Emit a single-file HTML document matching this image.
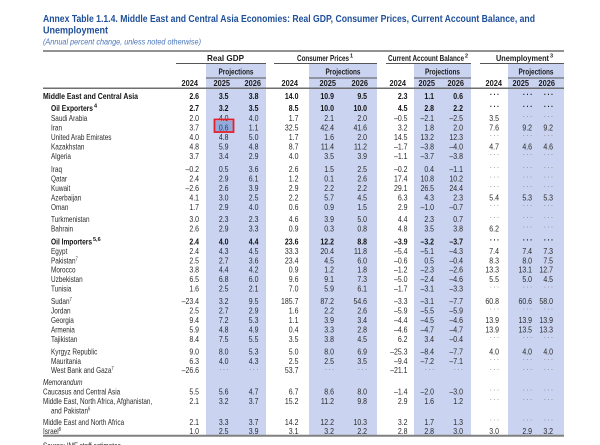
<!DOCTYPE html>
<html><head><meta charset="utf-8">
<style>
html,body{margin:0;padding:0;background:#fff;}
svg{display:block;}
text{font-family:"Liberation Sans",Arial,sans-serif;}
.t{font-size:10px;font-weight:bold;fill:#1f4f99;}
.st{font-size:8.5px;font-style:italic;fill:#4a76b8;}
.h{font-size:8.5px;font-weight:bold;fill:#1a1a1a;}
.n{font-size:8.5px;fill:#2a2a2a;}
.nb{font-size:8.5px;font-weight:bold;fill:#111;}
.d{font-size:8.5px;fill:#7a7a7a;letter-spacing:2px;}
.db{font-size:8.5px;font-weight:bold;fill:#111;letter-spacing:2px;}
.l{font-size:8.5px;fill:#2a2a2a;}
.lb{font-size:8.5px;font-weight:bold;fill:#111;}
.sup{font-size:5.5px;}
</style></head>
<body>
<svg width="600" height="445" viewBox="0 0 600 445" xmlns="http://www.w3.org/2000/svg">
<rect x="0" y="0" width="600" height="445" fill="#fff"/>

<!-- Title -->
<text class="t" x="43" y="22" textLength="492" lengthAdjust="spacingAndGlyphs">Annex Table 1.1.4. Middle East and Central Asia Economies: Real GDP, Consumer Prices, Current Account Balance, and</text>
<text class="t" x="43" y="33.5" textLength="65" lengthAdjust="spacingAndGlyphs">Unemployment</text>
<text class="st" x="43" y="44.5" textLength="158" lengthAdjust="spacingAndGlyphs">(Annual percent change, unless noted otherwise)</text>

<!-- shading -->
<g fill="#cad3ef">
<rect x="206" y="64" width="60" height="371"/>
<rect x="309" y="64" width="68" height="371"/>
<rect x="414" y="64" width="57" height="371"/>
<rect x="508" y="64" width="56" height="371"/>
</g>

<!-- rules -->
<line x1="43" y1="51" x2="564" y2="51" stroke="#6f6f6f" stroke-width="1.5"/>
<g stroke="#555" stroke-width="1">
<line x1="176" y1="63.5" x2="266" y2="63.5"/>
<line x1="274" y1="63.5" x2="377" y2="63.5"/>
<line x1="386" y1="63.5" x2="471" y2="63.5"/>
<line x1="480" y1="63.5" x2="564" y2="63.5"/>
<line x1="206" y1="78" x2="266" y2="78"/>
<line x1="309" y1="78" x2="377" y2="78"/>
<line x1="414" y1="78" x2="471" y2="78"/>
<line x1="508" y1="78" x2="564" y2="78"/>
</g>
<line x1="43" y1="88.3" x2="564" y2="88.3" stroke="#6f6f6f" stroke-width="1.5"/>
<line x1="43" y1="435.8" x2="564" y2="435.8" stroke="#808080" stroke-width="2"/>

<!-- headers -->
<text class="h" x="225.5" y="61" text-anchor="middle" textLength="37" lengthAdjust="spacingAndGlyphs">Real GDP</text>
<text class="h" x="297" y="61" textLength="52" lengthAdjust="spacingAndGlyphs">Consumer Prices</text>
<text class="h sup" x="350" y="57.5">1</text>
<text class="h" x="388" y="61" textLength="76" lengthAdjust="spacingAndGlyphs">Current Account Balance</text>
<text class="h sup" x="465" y="57.5">2</text>
<text class="h" x="496" y="61" textLength="53" lengthAdjust="spacingAndGlyphs">Unemployment</text>
<text class="h sup" x="550" y="57.5">3</text>

<text class="h" x="236" y="74.5" text-anchor="middle" textLength="35" lengthAdjust="spacingAndGlyphs">Projections</text>
<text class="h" x="343" y="74.5" text-anchor="middle" textLength="35" lengthAdjust="spacingAndGlyphs">Projections</text>
<text class="h" x="442.5" y="74.5" text-anchor="middle" textLength="35" lengthAdjust="spacingAndGlyphs">Projections</text>
<text class="h" x="536" y="74.5" text-anchor="middle" textLength="35" lengthAdjust="spacingAndGlyphs">Projections</text>

<g class="h">
<text x="181.5" y="86" textLength="16.5" lengthAdjust="spacingAndGlyphs">2024</text>
<text x="213.5" y="86" textLength="16.5" lengthAdjust="spacingAndGlyphs">2025</text>
<text x="244.5" y="86" textLength="16.5" lengthAdjust="spacingAndGlyphs">2026</text>
<text x="281.5" y="86" textLength="16.5" lengthAdjust="spacingAndGlyphs">2024</text>
<text x="319.5" y="86" textLength="16.5" lengthAdjust="spacingAndGlyphs">2025</text>
<text x="351.5" y="86" textLength="16.5" lengthAdjust="spacingAndGlyphs">2026</text>
<text x="389.5" y="86" textLength="16.5" lengthAdjust="spacingAndGlyphs">2024</text>
<text x="418.5" y="86" textLength="16.5" lengthAdjust="spacingAndGlyphs">2025</text>
<text x="447.5" y="86" textLength="16.5" lengthAdjust="spacingAndGlyphs">2026</text>
<text x="485.5" y="86" textLength="16.5" lengthAdjust="spacingAndGlyphs">2024</text>
<text x="512.5" y="86" textLength="16.5" lengthAdjust="spacingAndGlyphs">2025</text>
<text x="538.5" y="86" textLength="16.5" lengthAdjust="spacingAndGlyphs">2026</text>
</g>

<!-- highlight under Iran 2025 -->
<rect x="215.5" y="121" width="17" height="10" fill="#93abdb"/>

<!-- bold labels -->
<text class="lb" x="43" y="99" textLength="95" lengthAdjust="spacingAndGlyphs">Middle East and Central Asia</text>
<text class="lb" x="51" y="111" textLength="42" lengthAdjust="spacingAndGlyphs">Oil Exporters</text>
<text class="lb sup" x="94" y="107.5">4</text>
<text class="lb" x="51" y="244.5" textLength="41" lengthAdjust="spacingAndGlyphs">Oil Importers</text>
<text class="lb sup" x="93" y="241">5,6</text>

<!-- regular labels -->
<g transform="scale(0.755 1)" class="l">
<text x="67.55" y="121">Saudi Arabia</text>
<text x="67.55" y="130.5">Iran</text>
<text x="67.55" y="140">United Arab Emirates</text>
<text x="67.55" y="149.5">Kazakhstan</text>
<text x="67.55" y="159">Algeria</text>
<text x="67.55" y="172">Iraq</text>
<text x="67.55" y="181.5">Qatar</text>
<text x="67.55" y="191">Kuwait</text>
<text x="67.55" y="200.5">Azerbaijan</text>
<text x="67.55" y="210">Oman</text>
<text x="67.55" y="222">Turkmenistan</text>
<text x="67.55" y="231.6">Bahrain</text>
<text x="67.55" y="254">Egypt</text>
<text x="67.55" y="263.3">Pakistan<tspan class="sup" dy="-3">7</tspan></text>
<text x="67.55" y="272.7">Morocco</text>
<text x="67.55" y="282">Uzbekistan</text>
<text x="67.55" y="291.5">Tunisia</text>
<text x="67.55" y="304">Sudan<tspan class="sup" dy="-3">7</tspan></text>
<text x="67.55" y="313.5">Jordan</text>
<text x="67.55" y="323">Georgia</text>
<text x="67.55" y="332.5">Armenia</text>
<text x="67.55" y="342">Tajikistan</text>
<text x="67.55" y="354.5">Kyrgyz Republic</text>
<text x="67.55" y="364">Mauritania</text>
<text x="67.55" y="373">West Bank and Gaza<tspan class="sup" dy="-3">7</tspan></text>
<text x="56.95" y="385" font-style="italic">Memorandum</text>
<text x="56.95" y="394.5">Caucasus and Central Asia</text>
<text x="56.95" y="404">Middle East, North Africa, Afghanistan,</text>
<text x="67.55" y="413.5">and Pakistan<tspan class="sup" dy="-3">6</tspan></text>
<text x="56.95" y="425">Middle East and North Africa</text>
<text x="56.95" y="434">Israel<tspan class="sup" dy="-3">8</tspan></text>
<text x="56.95" y="448.5">Source: IMF staff estimates.</text>
</g>

<!-- numbers -->
<g transform="scale(0.82 1)" text-anchor="end">
<text class="nb" y="99"><tspan x="242.7">2.6</tspan><tspan x="278.7">3.5</tspan><tspan x="315.2">3.8</tspan><tspan x="364.0">14.0</tspan><tspan x="407.3">10.9</tspan><tspan x="447.6">9.5</tspan><tspan x="497.0">2.3</tspan><tspan x="529.3">1.1</tspan><tspan x="564.6">0.6</tspan></text>
<text class="db" y="95"><tspan x="610.5">...</tspan><tspan x="650.8">...</tspan><tspan x="676.4">...</tspan></text>
<text class="nb" y="111"><tspan x="242.7">2.7</tspan><tspan x="278.7">3.2</tspan><tspan x="315.2">3.5</tspan><tspan x="364.0">8.5</tspan><tspan x="407.3">10.0</tspan><tspan x="447.6">10.0</tspan><tspan x="497.0">4.5</tspan><tspan x="529.3">2.8</tspan><tspan x="564.6">2.2</tspan></text>
<text class="db" y="107"><tspan x="610.5">...</tspan><tspan x="650.8">...</tspan><tspan x="676.4">...</tspan></text>
<text class="n" y="121"><tspan x="242.7">2.0</tspan><tspan x="278.7">4.0</tspan><tspan x="315.2">4.0</tspan><tspan x="364.0">1.7</tspan><tspan x="407.3">2.1</tspan><tspan x="447.6">2.0</tspan><tspan x="497.0">–0.5</tspan><tspan x="529.3">–2.1</tspan><tspan x="564.6">–2.5</tspan><tspan x="608.5">3.5</tspan></text>
<text class="d" y="117"><tspan x="650.8">...</tspan><tspan x="676.4">...</tspan></text>
<text class="n" y="130.5"><tspan x="242.7">3.7</tspan><tspan x="278.7" fill="#1d3f7a">0.6</tspan><tspan x="315.2">1.1</tspan><tspan x="364.0">32.5</tspan><tspan x="407.3">42.4</tspan><tspan x="447.6">41.6</tspan><tspan x="497.0">3.2</tspan><tspan x="529.3">1.8</tspan><tspan x="564.6">2.0</tspan><tspan x="608.5">7.6</tspan><tspan x="648.8">9.2</tspan><tspan x="674.4">9.2</tspan></text>
<text class="n" y="140"><tspan x="242.7">4.0</tspan><tspan x="278.7">4.8</tspan><tspan x="315.2">5.0</tspan><tspan x="364.0">1.7</tspan><tspan x="407.3">1.6</tspan><tspan x="447.6">2.0</tspan><tspan x="497.0">14.5</tspan><tspan x="529.3">13.2</tspan><tspan x="564.6">12.3</tspan></text>
<text class="d" y="136"><tspan x="610.5">...</tspan><tspan x="650.8">...</tspan><tspan x="676.4">...</tspan></text>
<text class="n" y="149.5"><tspan x="242.7">4.8</tspan><tspan x="278.7">5.9</tspan><tspan x="315.2">4.8</tspan><tspan x="364.0">8.7</tspan><tspan x="407.3">11.4</tspan><tspan x="447.6">11.2</tspan><tspan x="497.0">–1.7</tspan><tspan x="529.3">–3.8</tspan><tspan x="564.6">–4.0</tspan><tspan x="608.5">4.7</tspan><tspan x="648.8">4.6</tspan><tspan x="674.4">4.6</tspan></text>
<text class="n" y="159"><tspan x="242.7">3.7</tspan><tspan x="278.7">3.4</tspan><tspan x="315.2">2.9</tspan><tspan x="364.0">4.0</tspan><tspan x="407.3">3.5</tspan><tspan x="447.6">3.9</tspan><tspan x="497.0">–1.1</tspan><tspan x="529.3">–3.7</tspan><tspan x="564.6">–3.8</tspan></text>
<text class="d" y="155"><tspan x="610.5">...</tspan><tspan x="650.8">...</tspan><tspan x="676.4">...</tspan></text>
<text class="n" y="172"><tspan x="242.7">–0.2</tspan><tspan x="278.7">0.5</tspan><tspan x="315.2">3.6</tspan><tspan x="364.0">2.6</tspan><tspan x="407.3">1.5</tspan><tspan x="447.6">2.5</tspan><tspan x="497.0">–0.2</tspan><tspan x="529.3">0.4</tspan><tspan x="564.6">–1.1</tspan></text>
<text class="d" y="168"><tspan x="610.5">...</tspan><tspan x="650.8">...</tspan><tspan x="676.4">...</tspan></text>
<text class="n" y="181.5"><tspan x="242.7">2.4</tspan><tspan x="278.7">2.9</tspan><tspan x="315.2">6.1</tspan><tspan x="364.0">1.2</tspan><tspan x="407.3">0.1</tspan><tspan x="447.6">2.6</tspan><tspan x="497.0">17.4</tspan><tspan x="529.3">10.8</tspan><tspan x="564.6">10.2</tspan></text>
<text class="d" y="177.5"><tspan x="610.5">...</tspan><tspan x="650.8">...</tspan><tspan x="676.4">...</tspan></text>
<text class="n" y="191"><tspan x="242.7">–2.6</tspan><tspan x="278.7">2.6</tspan><tspan x="315.2">3.9</tspan><tspan x="364.0">2.9</tspan><tspan x="407.3">2.2</tspan><tspan x="447.6">2.2</tspan><tspan x="497.0">29.1</tspan><tspan x="529.3">26.5</tspan><tspan x="564.6">24.4</tspan></text>
<text class="d" y="187"><tspan x="610.5">...</tspan><tspan x="650.8">...</tspan><tspan x="676.4">...</tspan></text>
<text class="n" y="200.5"><tspan x="242.7">4.1</tspan><tspan x="278.7">3.0</tspan><tspan x="315.2">2.5</tspan><tspan x="364.0">2.2</tspan><tspan x="407.3">5.7</tspan><tspan x="447.6">4.5</tspan><tspan x="497.0">6.3</tspan><tspan x="529.3">4.3</tspan><tspan x="564.6">2.3</tspan><tspan x="608.5">5.4</tspan><tspan x="648.8">5.3</tspan><tspan x="674.4">5.3</tspan></text>
<text class="n" y="210"><tspan x="242.7">1.7</tspan><tspan x="278.7">2.9</tspan><tspan x="315.2">4.0</tspan><tspan x="364.0">0.6</tspan><tspan x="407.3">0.9</tspan><tspan x="447.6">1.5</tspan><tspan x="497.0">2.9</tspan><tspan x="529.3">–1.0</tspan><tspan x="564.6">–0.7</tspan></text>
<text class="d" y="206"><tspan x="610.5">...</tspan><tspan x="650.8">...</tspan><tspan x="676.4">...</tspan></text>
<text class="n" y="222"><tspan x="242.7">3.0</tspan><tspan x="278.7">2.3</tspan><tspan x="315.2">2.3</tspan><tspan x="364.0">4.6</tspan><tspan x="407.3">3.9</tspan><tspan x="447.6">5.0</tspan><tspan x="497.0">4.4</tspan><tspan x="529.3">2.3</tspan><tspan x="564.6">0.7</tspan></text>
<text class="d" y="218"><tspan x="610.5">...</tspan><tspan x="650.8">...</tspan><tspan x="676.4">...</tspan></text>
<text class="n" y="231.6"><tspan x="242.7">2.6</tspan><tspan x="278.7">2.9</tspan><tspan x="315.2">3.3</tspan><tspan x="364.0">0.9</tspan><tspan x="407.3">0.3</tspan><tspan x="447.6">0.8</tspan><tspan x="497.0">4.8</tspan><tspan x="529.3">3.5</tspan><tspan x="564.6">3.8</tspan><tspan x="608.5">6.2</tspan></text>
<text class="d" y="227.6"><tspan x="650.8">...</tspan><tspan x="676.4">...</tspan></text>
<text class="nb" y="244.5"><tspan x="242.7">2.4</tspan><tspan x="278.7">4.0</tspan><tspan x="315.2">4.4</tspan><tspan x="364.0">23.6</tspan><tspan x="407.3">12.2</tspan><tspan x="447.6">8.8</tspan><tspan x="497.0">–3.9</tspan><tspan x="529.3">–3.2</tspan><tspan x="564.6">–3.7</tspan></text>
<text class="db" y="240.5"><tspan x="610.5">...</tspan><tspan x="650.8">...</tspan><tspan x="676.4">...</tspan></text>
<text class="n" y="254"><tspan x="242.7">2.4</tspan><tspan x="278.7">4.3</tspan><tspan x="315.2">4.5</tspan><tspan x="364.0">33.3</tspan><tspan x="407.3">20.4</tspan><tspan x="447.6">11.8</tspan><tspan x="497.0">–5.4</tspan><tspan x="529.3">–5.1</tspan><tspan x="564.6">–4.3</tspan><tspan x="608.5">7.4</tspan><tspan x="648.8">7.4</tspan><tspan x="674.4">7.3</tspan></text>
<text class="n" y="263.3"><tspan x="242.7">2.5</tspan><tspan x="278.7">2.7</tspan><tspan x="315.2">3.6</tspan><tspan x="364.0">23.4</tspan><tspan x="407.3">4.5</tspan><tspan x="447.6">6.0</tspan><tspan x="497.0">–0.6</tspan><tspan x="529.3">0.5</tspan><tspan x="564.6">–0.4</tspan><tspan x="608.5">8.3</tspan><tspan x="648.8">8.0</tspan><tspan x="674.4">7.5</tspan></text>
<text class="n" y="272.7"><tspan x="242.7">3.8</tspan><tspan x="278.7">4.4</tspan><tspan x="315.2">4.2</tspan><tspan x="364.0">0.9</tspan><tspan x="407.3">1.2</tspan><tspan x="447.6">1.8</tspan><tspan x="497.0">–1.2</tspan><tspan x="529.3">–2.3</tspan><tspan x="564.6">–2.6</tspan><tspan x="608.5">13.3</tspan><tspan x="648.8">13.1</tspan><tspan x="674.4">12.7</tspan></text>
<text class="n" y="282"><tspan x="242.7">6.5</tspan><tspan x="278.7">6.8</tspan><tspan x="315.2">6.0</tspan><tspan x="364.0">9.6</tspan><tspan x="407.3">9.1</tspan><tspan x="447.6">7.3</tspan><tspan x="497.0">–5.0</tspan><tspan x="529.3">–2.4</tspan><tspan x="564.6">–4.6</tspan><tspan x="608.5">5.5</tspan><tspan x="648.8">5.0</tspan><tspan x="674.4">4.5</tspan></text>
<text class="n" y="291.5"><tspan x="242.7">1.6</tspan><tspan x="278.7">2.5</tspan><tspan x="315.2">2.1</tspan><tspan x="364.0">7.0</tspan><tspan x="407.3">5.9</tspan><tspan x="447.6">6.1</tspan><tspan x="497.0">–1.7</tspan><tspan x="529.3">–3.1</tspan><tspan x="564.6">–3.3</tspan></text>
<text class="d" y="287.5"><tspan x="610.5">...</tspan><tspan x="650.8">...</tspan><tspan x="676.4">...</tspan></text>
<text class="n" y="304"><tspan x="242.7">–23.4</tspan><tspan x="278.7">3.2</tspan><tspan x="315.2">9.5</tspan><tspan x="364.0">185.7</tspan><tspan x="407.3">87.2</tspan><tspan x="447.6">54.6</tspan><tspan x="497.0">–3.3</tspan><tspan x="529.3">–3.1</tspan><tspan x="564.6">–7.7</tspan><tspan x="608.5">60.8</tspan><tspan x="648.8">60.6</tspan><tspan x="674.4">58.0</tspan></text>
<text class="n" y="313.5"><tspan x="242.7">2.5</tspan><tspan x="278.7">2.7</tspan><tspan x="315.2">2.9</tspan><tspan x="364.0">1.6</tspan><tspan x="407.3">2.2</tspan><tspan x="447.6">2.6</tspan><tspan x="497.0">–5.9</tspan><tspan x="529.3">–5.5</tspan><tspan x="564.6">–5.9</tspan></text>
<text class="d" y="309.5"><tspan x="610.5">...</tspan><tspan x="650.8">...</tspan><tspan x="676.4">...</tspan></text>
<text class="n" y="323"><tspan x="242.7">9.4</tspan><tspan x="278.7">7.2</tspan><tspan x="315.2">5.3</tspan><tspan x="364.0">1.1</tspan><tspan x="407.3">3.9</tspan><tspan x="447.6">3.4</tspan><tspan x="497.0">–4.4</tspan><tspan x="529.3">–4.5</tspan><tspan x="564.6">–4.6</tspan><tspan x="608.5">13.9</tspan><tspan x="648.8">13.9</tspan><tspan x="674.4">13.9</tspan></text>
<text class="n" y="332.5"><tspan x="242.7">5.9</tspan><tspan x="278.7">4.8</tspan><tspan x="315.2">4.9</tspan><tspan x="364.0">0.4</tspan><tspan x="407.3">3.3</tspan><tspan x="447.6">2.8</tspan><tspan x="497.0">–4.6</tspan><tspan x="529.3">–4.7</tspan><tspan x="564.6">–4.7</tspan><tspan x="608.5">13.9</tspan><tspan x="648.8">13.5</tspan><tspan x="674.4">13.3</tspan></text>
<text class="n" y="342"><tspan x="242.7">8.4</tspan><tspan x="278.7">7.5</tspan><tspan x="315.2">5.5</tspan><tspan x="364.0">3.5</tspan><tspan x="407.3">3.8</tspan><tspan x="447.6">4.5</tspan><tspan x="497.0">6.2</tspan><tspan x="529.3">3.4</tspan><tspan x="564.6">–0.4</tspan></text>
<text class="d" y="338"><tspan x="610.5">...</tspan><tspan x="650.8">...</tspan><tspan x="676.4">...</tspan></text>
<text class="n" y="354.5"><tspan x="242.7">9.0</tspan><tspan x="278.7">8.0</tspan><tspan x="315.2">5.3</tspan><tspan x="364.0">5.0</tspan><tspan x="407.3">8.0</tspan><tspan x="447.6">6.9</tspan><tspan x="497.0">–25.3</tspan><tspan x="529.3">–8.4</tspan><tspan x="564.6">–7.7</tspan><tspan x="608.5">4.0</tspan><tspan x="648.8">4.0</tspan><tspan x="674.4">4.0</tspan></text>
<text class="n" y="364"><tspan x="242.7">6.3</tspan><tspan x="278.7">4.0</tspan><tspan x="315.2">4.3</tspan><tspan x="364.0">2.5</tspan><tspan x="407.3">2.5</tspan><tspan x="447.6">3.5</tspan><tspan x="497.0">–9.4</tspan><tspan x="529.3">–7.2</tspan><tspan x="564.6">–7.1</tspan></text>
<text class="d" y="360"><tspan x="610.5">...</tspan><tspan x="650.8">...</tspan><tspan x="676.4">...</tspan></text>
<text class="n" y="373"><tspan x="242.7">–26.6</tspan><tspan x="364.0">53.7</tspan><tspan x="497.0">–21.1</tspan></text>
<text class="d" y="370"><tspan x="280.7">...</tspan><tspan x="317.2">...</tspan><tspan x="409.3">...</tspan><tspan x="449.6">...</tspan><tspan x="531.3">...</tspan><tspan x="566.6">...</tspan><tspan x="610.5">...</tspan><tspan x="650.8">...</tspan><tspan x="676.4">...</tspan></text>
<text class="n" y="394.5"><tspan x="242.7">5.5</tspan><tspan x="278.7">5.6</tspan><tspan x="315.2">4.7</tspan><tspan x="364.0">6.7</tspan><tspan x="407.3">8.6</tspan><tspan x="447.6">8.0</tspan><tspan x="497.0">–1.4</tspan><tspan x="529.3">–2.0</tspan><tspan x="564.6">–3.0</tspan></text>
<text class="d" y="390.5"><tspan x="610.5">...</tspan><tspan x="650.8">...</tspan><tspan x="676.4">...</tspan></text>
<text class="n" y="404"><tspan x="242.7">2.1</tspan><tspan x="278.7">3.2</tspan><tspan x="315.2">3.7</tspan><tspan x="364.0">15.2</tspan><tspan x="407.3">11.2</tspan><tspan x="447.6">9.8</tspan><tspan x="497.0">2.9</tspan><tspan x="529.3">1.6</tspan><tspan x="564.6">1.2</tspan></text>
<text class="d" y="400"><tspan x="610.5">...</tspan><tspan x="650.8">...</tspan><tspan x="676.4">...</tspan></text>
<text class="n" y="425"><tspan x="242.7">2.1</tspan><tspan x="278.7">3.3</tspan><tspan x="315.2">3.7</tspan><tspan x="364.0">14.2</tspan><tspan x="407.3">12.2</tspan><tspan x="447.6">10.3</tspan><tspan x="497.0">3.2</tspan><tspan x="529.3">1.7</tspan><tspan x="564.6">1.3</tspan></text>
<text class="d" y="420.5"><tspan x="610.5">...</tspan><tspan x="650.8">...</tspan><tspan x="676.4">...</tspan></text>
<text class="n" y="434"><tspan x="242.7">1.0</tspan><tspan x="278.7">2.5</tspan><tspan x="315.2">3.9</tspan><tspan x="364.0">3.1</tspan><tspan x="407.3">3.2</tspan><tspan x="447.6">2.2</tspan><tspan x="497.0">2.8</tspan><tspan x="529.3">2.8</tspan><tspan x="564.6">3.0</tspan><tspan x="608.5">3.0</tspan><tspan x="648.8">2.9</tspan><tspan x="674.4">3.2</tspan></text>
</g>

<!-- red box -->
<rect x="214.5" y="119.5" width="19" height="12.5" fill="none" stroke="#e3202a" stroke-width="1.8"/>
</svg>
</body></html>
